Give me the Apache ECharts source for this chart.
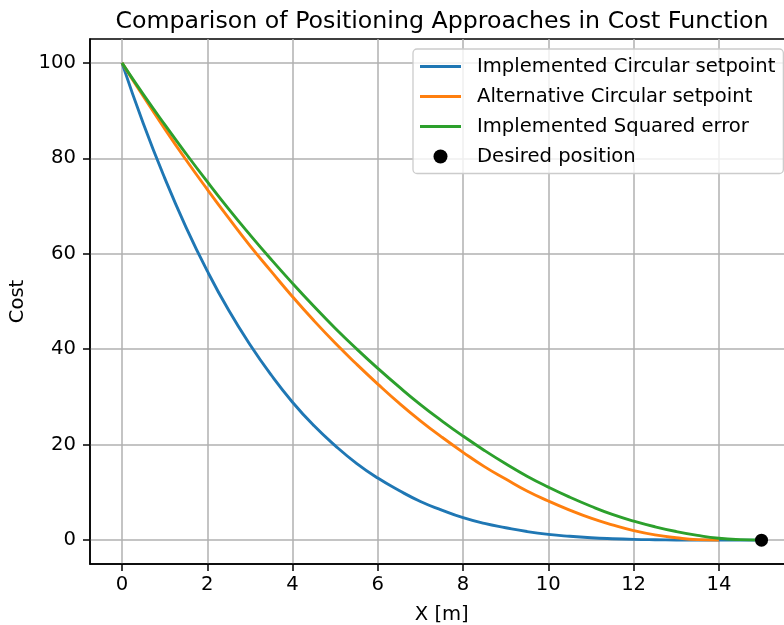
<!DOCTYPE html>
<html>
<head>
<meta charset="utf-8">
<script src="https://cdn.jsdelivr.net/npm/echarts@6/dist/echarts.min.js"></script>
<style>
  html, body { margin: 0; padding: 0; background: #fff; }
  #chart { width: 784px; height: 625px; }
</style>
</head>
<body>
<div id="chart"></div>
<script>
// Position along the track, sampled every 0.5 m
const xFull = [0, 0.5, 1, 1.5, 2, 2.5, 3, 3.5, 4, 4.5, 5, 5.5, 6, 6.5, 7, 7.5,
  8, 8.5, 9, 9.5, 10, 10.5, 11, 11.5, 12, 12.5, 13, 13.5, 14, 14.5, 15];
const xShort = xFull.slice(0, 29); // 0 .. 14 m

const implementedCircular = [100, 87.3, 75.9, 65.6, 56.4, 48.2, 41.0, 34.6, 28.9, 24.0,
  19.8, 16.1, 13.0, 10.4, 8.1, 6.3, 4.7, 3.5, 2.6, 1.8, 1.2, 0.8, 0.5, 0.3, 0.16,
  0.08, 0.03, 0.01, 0, 0, 0];
const alternativeCircular = [100, 93.0, 86.2, 79.7, 73.5, 67.5, 61.7, 56.3, 51.0, 46.0,
  41.3, 36.9, 32.7, 28.7, 25.0, 21.6, 18.4, 15.4, 12.8, 10.3, 8.2, 6.3, 4.6, 3.2,
  2.0, 1.1, 0.5, 0.1, 0];
const implementedSquared = [100, 93.4, 87.1, 81.0, 75.1, 69.4, 64.0, 58.8, 53.8, 49.0,
  44.4, 40.1, 36.0, 32.1, 28.4, 25.0, 21.8, 18.8, 16.0, 13.4, 11.1, 9.0, 7.1, 5.4,
  4.0, 2.8, 1.8, 1.0, 0.4, 0.1, 0];
const desiredPosition = [[15, 0]];

const xTicks = [0, 2, 4, 6, 8, 10, 12, 14];
const yTicks = [0, 20, 40, 60, 80, 100];

const FONT = 'DejaVu Sans';
const LABEL_SIZE = 19.6;
// thin horizontal bar used as the legend handle for the line series
const LINE_HANDLE = 'path://M0,0 L41,0 L41,3 L0,3 Z';
const pair = (xs, ys) => xs.map((x, i) => [x, ys[i]]);

const chart = echarts.init(document.getElementById('chart'), null, { renderer: 'canvas' });

const lineSeries = (name, xs, ys, color) => ({
  name,
  type: 'line',
  data: pair(xs, ys),
  symbol: 'none',
  smooth: 0.5,
  lineStyle: { color, width: 2.9 },
  itemStyle: { color },
  clip: true,
  animation: false
});

chart.setOption({
  animation: false,
  backgroundColor: '#fff',
  title: {
    text: 'Comparison of Positioning Approaches in Cost Function',
    left: 437,
    top: 5,
    textAlign: 'center',
    textStyle: { fontFamily: FONT, fontSize: 23.7, fontWeight: 'normal', color: '#000' }
  },
  grid: {
    left: 90,
    top: 39,
    right: -9.5,
    bottom: 61,
    outerBoundsMode: 'none',
    show: true,
    borderColor: '#000',
    borderWidth: 1.5,
    containLabel: false
  },
  legend: {
    orient: 'vertical',
    left: 413,
    top: 49,
    padding: [7.5, 8, 7, 7],
    itemGap: 10,
    itemWidth: 41,
    itemHeight: 14,
    symbolKeepAspect: true,
    backgroundColor: 'rgba(255,255,255,0.8)',
    borderColor: '#cccccc',
    borderWidth: 1.3,
    borderRadius: 4,
    textStyle: { fontFamily: FONT, fontSize: LABEL_SIZE, color: '#000', padding: [0, 0, 0, 11] },
    data: [
      { name: 'Implemented Circular setpoint', icon: LINE_HANDLE },
      { name: 'Alternative Circular setpoint', icon: LINE_HANDLE },
      { name: 'Implemented Squared error', icon: LINE_HANDLE },
      { name: 'Desired position', icon: 'circle' }
    ]
  },
  xAxis: {
    type: 'value',
    min: -0.75,
    max: 15.75,
    splitNumber: 8,
    name: 'X [m]',
    nameLocation: 'middle',
    nameGap: 41,
    nameTextStyle: { fontFamily: FONT, fontSize: LABEL_SIZE, color: '#000' },
    axisLine: { show: true, onZero: false, lineStyle: { color: '#000', width: 1.5 } },
    axisTick: { show: true, customValues: xTicks, length: 7, lineStyle: { color: '#000', width: 1.5 } },
    axisLabel: { customValues: xTicks, margin: 11, fontFamily: FONT, fontSize: LABEL_SIZE, color: '#000' },
    splitLine: { show: true, lineStyle: { color: '#b0b0b0', width: 1.5 } }
  },
  yAxis: {
    type: 'value',
    min: -5,
    max: 105,
    splitNumber: 5,
    name: 'Cost',
    nameLocation: 'middle',
    nameGap: 56,
    nameRotate: 90,
    nameTextStyle: { fontFamily: FONT, fontSize: LABEL_SIZE, color: '#000' },
    axisLine: { show: true, onZero: false, lineStyle: { color: '#000', width: 1.5 } },
    axisTick: { show: true, customValues: yTicks, length: 7, lineStyle: { color: '#000', width: 1.5 } },
    axisLabel: { customValues: yTicks, margin: 14, fontFamily: FONT, fontSize: LABEL_SIZE, color: '#000' },
    splitLine: { show: true, lineStyle: { color: '#b0b0b0', width: 1.5 } }
  },
  series: [
    lineSeries('Implemented Circular setpoint', xFull, implementedCircular, '#1f77b4'),
    lineSeries('Alternative Circular setpoint', xShort, alternativeCircular, '#ff7f0e'),
    lineSeries('Implemented Squared error', xFull, implementedSquared, '#2ca02c'),
    {
      name: 'Desired position',
      type: 'scatter',
      data: desiredPosition,
      symbol: 'circle',
      symbolSize: 13,
      itemStyle: { color: '#000', opacity: 1 },
      z: 5,
      animation: false
    }
  ]
});
</script>
</body>
</html>
